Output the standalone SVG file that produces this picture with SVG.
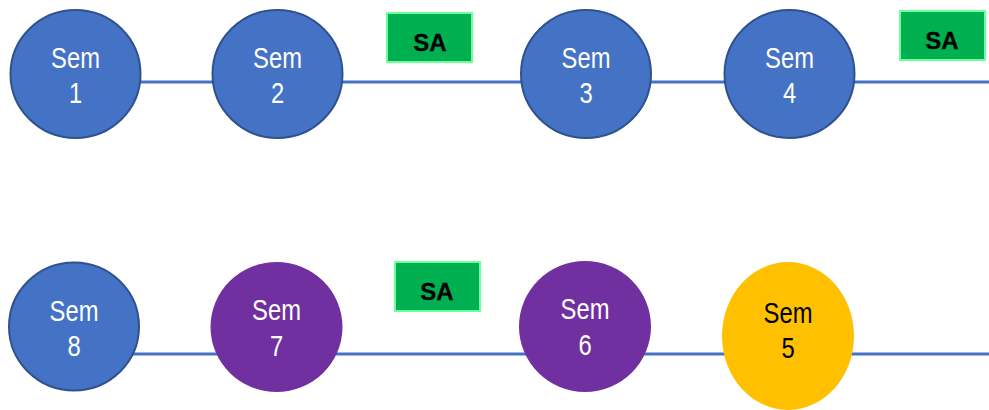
<svg xmlns="http://www.w3.org/2000/svg" width="989" height="410" viewBox="0 0 989 410">
<style>
.blue{fill:#4472C4;stroke:#2F528F;stroke-width:2}
.purple{fill:#7030A0}
.yellow{fill:#FFC000}
.lbl{font-family:'Liberation Sans',Arial,sans-serif;font-size:29px;text-anchor:middle;fill:#fff}
.dark{fill:#000}
.sa rect{fill:#00B050;stroke:#6CFF9C;stroke-width:2}
.sa text{font-family:'Liberation Sans',Arial,sans-serif;font-weight:bold;font-size:24px;text-anchor:middle;fill:#000;stroke:#000;stroke-width:0.3}
.conn{stroke:#4472C4;stroke-width:3;fill:none}
</style>
<g id="connectors">
<line class="conn" x1="75" y1="82" x2="989" y2="82"/>
<line class="conn" x1="100" y1="354" x2="989" y2="354"/>
</g>
<g id="sem1"><ellipse class="blue" cx="75.5" cy="74" rx="65" ry="64"/>
<g transform="translate(75.5,0) scale(0.82,1)"><text class="lbl" x="0" y="68">Sem</text><text class="lbl" x="0" y="103">1</text></g></g>
<g id="sem2"><ellipse class="blue" cx="277.5" cy="74" rx="65" ry="64"/>
<g transform="translate(277.5,0) scale(0.82,1)"><text class="lbl" x="0" y="68">Sem</text><text class="lbl" x="0" y="103">2</text></g></g>
<g id="sem3"><ellipse class="blue" cx="586" cy="74" rx="65" ry="64"/>
<g transform="translate(586,0) scale(0.82,1)"><text class="lbl" x="0" y="68">Sem</text><text class="lbl" x="0" y="103">3</text></g></g>
<g id="sem4"><ellipse class="blue" cx="789.5" cy="74" rx="65" ry="64"/>
<g transform="translate(789.5,0) scale(0.82,1)"><text class="lbl" x="0" y="68">Sem</text><text class="lbl" x="0" y="103">4</text></g></g>
<g id="sa1" class="sa"><rect x="387" y="13" width="85" height="49"/><text x="430" y="51">SA</text></g>
<g id="sa2" class="sa"><rect x="900" y="11" width="85" height="49"/><text x="942" y="49">SA</text></g>
<g id="sa3" class="sa"><rect x="395" y="262" width="85" height="49"/><text x="437" y="300">SA</text></g>
<g id="sem8"><ellipse class="blue" cx="74" cy="326.5" rx="65" ry="64"/>
<g transform="translate(74,0) scale(0.82,1)"><text class="lbl" x="0" y="321">Sem</text><text class="lbl" x="0" y="356">8</text></g></g>
<g id="sem7"><ellipse class="purple" cx="276.5" cy="327" rx="66" ry="65"/>
<g transform="translate(276.5,0) scale(0.82,1)"><text class="lbl" x="0" y="320">Sem</text><text class="lbl" x="0" y="356">7</text></g></g>
<g id="sem6"><ellipse class="purple" cx="585" cy="326.5" rx="66" ry="65.5"/>
<g transform="translate(585,0) scale(0.82,1)"><text class="lbl" x="0" y="319">Sem</text><text class="lbl" x="0" y="355">6</text></g></g>
<g id="sem5"><ellipse class="yellow" cx="788" cy="336" rx="66" ry="74"/>
<g transform="translate(788,0) scale(0.82,1)"><text class="lbl dark" x="0" y="323">Sem</text><text class="lbl dark" x="0" y="358">5</text></g></g>
</svg>
